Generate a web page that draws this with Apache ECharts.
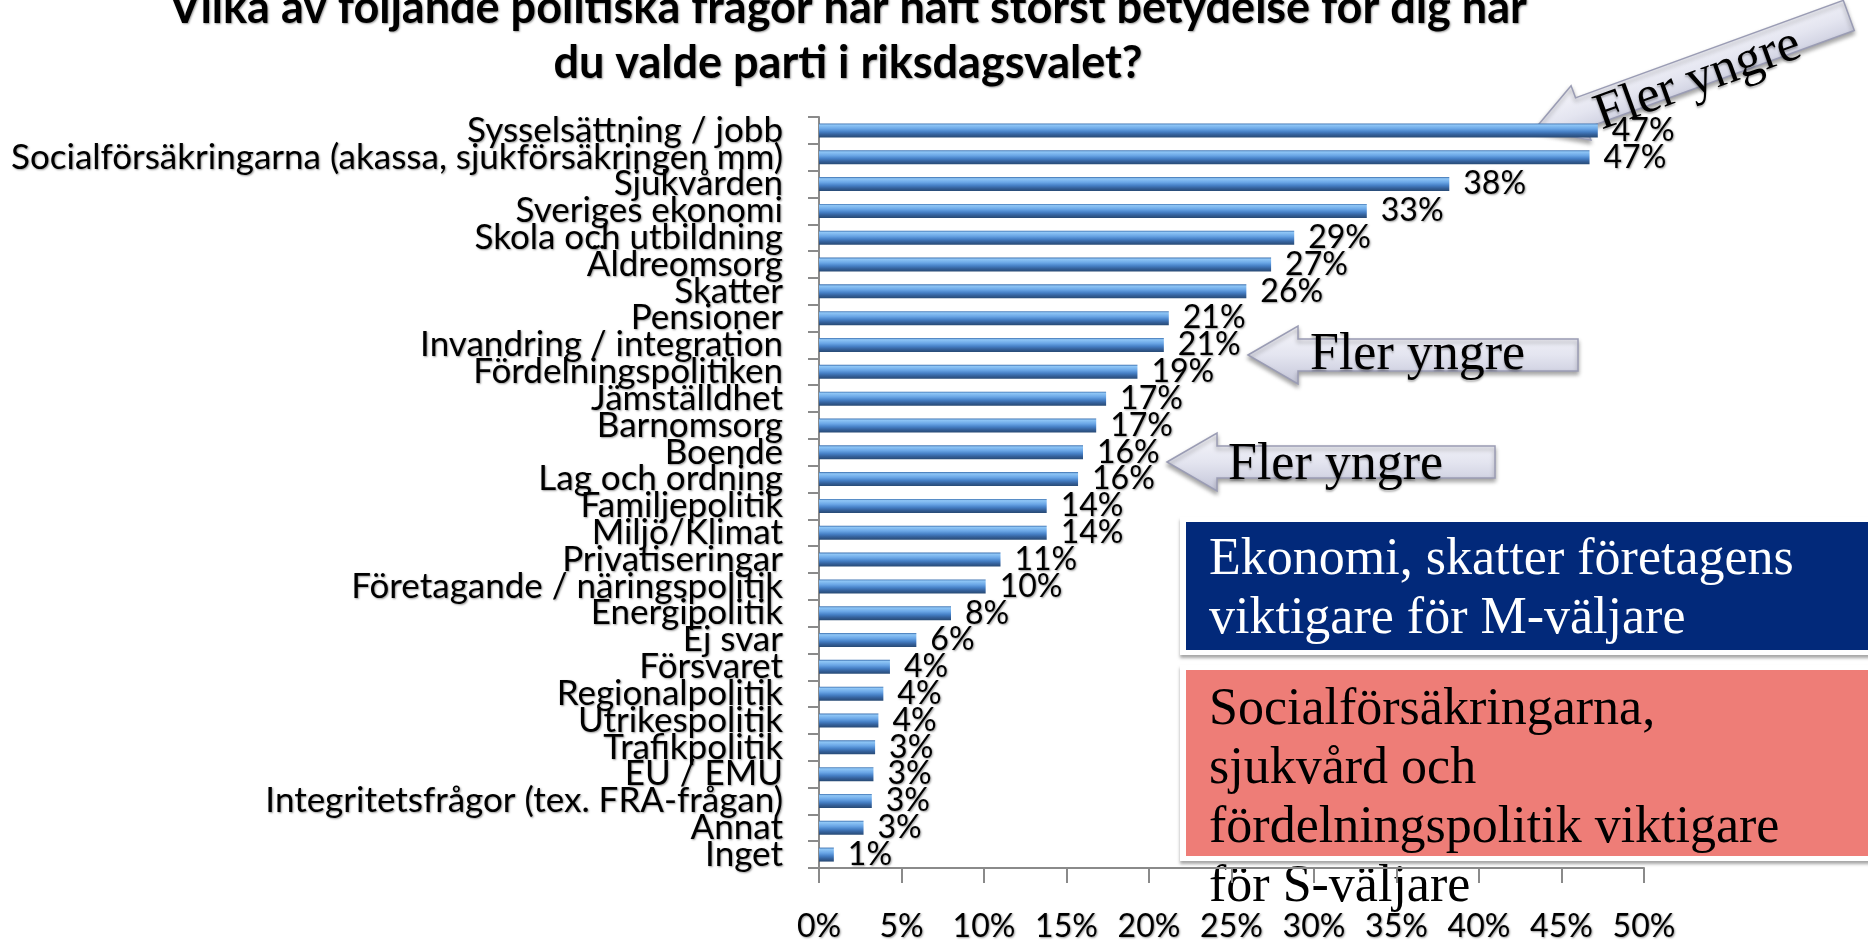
<!DOCTYPE html>
<html>
<head>
<meta charset="utf-8">
<script src="https://cdn.jsdelivr.net/npm/echarts@6/dist/echarts.min.js"></script>
<style>
html,body{margin:0;padding:0;background:#fff;}
#chart{width:1868px;height:944px;}
</style>
</head>
<body>
<div id="chart"></div>
<script>
const titleLines = ['Vilka av följande politiska frågor har haft störst betydelse för dig när', 'du valde parti i riksdagsvalet?'];
const categories = [
  'Sysselsättning / jobb',
  'Socialförsäkringarna (akassa, sjukförsäkringen mm)',
  'Sjukvården',
  'Sveriges ekonomi',
  'Skola och utbildning',
  'Äldreomsorg',
  'Skatter',
  'Pensioner',
  'Invandring / integration',
  'Fördelningspolitiken',
  'Jämställdhet',
  'Barnomsorg',
  'Boende',
  'Lag och ordning',
  'Familjepolitik',
  'Miljö/Klimat',
  'Privatiseringar',
  'Företagande / näringspolitik',
  'Energipolitik',
  'Ej svar',
  'Försvaret',
  'Regionalpolitik',
  'Utrikespolitik',
  'Trafikpolitik',
  'EU / EMU',
  'Integritetsfrågor (tex. FRA-frågan)',
  'Annat',
  'Inget'
];
const values = [47.2, 46.7, 38.2, 33.2, 28.8, 27.4, 25.9, 21.2, 20.9, 19.3, 17.4, 16.8, 16.0, 15.7, 13.8, 13.8, 11.0, 10.1, 8.0, 5.9, 4.3, 3.9, 3.6, 3.4, 3.3, 3.2, 2.7, 0.9];
const valueLabels = ['47%','47%','38%','33%','29%','27%','26%','21%','21%','19%','17%','17%','16%','16%','14%','14%','11%','10%','8%','6%','4%','4%','4%','3%','3%','3%','3%','1%'];
const xTickLabels = ['0%','5%','10%','15%','20%','25%','30%','35%','40%','45%','50%'];
const arrowText = 'Fler yngre';
const blueBoxLines = ['Ekonomi, skatter företagens', 'viktigare för M-väljare'];
const redBoxLines = ['Socialförsäkringarna,', 'sjukvård och', 'fördelningspolitik viktigare', 'för S-väljare'];

const chart = echarts.init(document.getElementById('chart'));

const sansFont = 'Lato, "Open Sans", sans-serif';
const serifFont = '"Liberation Serif", "DejaVu Serif", serif';
const shadowTxt = {textShadowColor:'rgba(0,0,0,0.4)', textShadowBlur:2, textShadowOffsetX:1, textShadowOffsetY:1};

function arrowPoints(len, headLen, headHalf, shaftHalf) {
  return [[0,0],[headLen,-headHalf],[headLen,-shaftHalf],[len,-shaftHalf],[len,shaftHalf],[headLen,shaftHalf],[headLen,headHalf]];
}
const arrowFill = new echarts.graphic.LinearGradient(0,0,0,1,[
  {offset:0,color:'#f7f7fc'},{offset:0.5,color:'#e4e5f0'},{offset:1,color:'#c3c5d8'}
]);
function arrow(x, y, rot, len) {
  return {
    type:'group', x:x, y:y, rotation:rot,
    children:[{
      type:'polygon',
      shape:{points:arrowPoints(len, 50, 29, 16)},
      style:{fill:arrowFill, stroke:'#9a9cb4', lineWidth:1.5, shadowColor:'rgba(0,0,0,0.35)', shadowBlur:4, shadowOffsetY:3}
    }]
  };
}
function txt(x, y, text, size, color, extra) {
  return {
    type:'text', x:x, y:y,
    style:Object.assign({text:text, fontSize:size, fontFamily:serifFont, fill:color,
      textAlign:'left', textVerticalAlign:'middle', align:'left', verticalAlign:'middle'}, extra||{})
  };
}
const arrowTxtShadow = {textShadowColor:'rgba(0,0,0,0.3)', textShadowBlur:2, textShadowOffsetY:2};

const rot1 = 20 * Math.PI / 180;
const graphics = [
  arrow(1534, 130, rot1, 335),
  {type:'text', x:1698, y:80, rotation:rot1,
   style:Object.assign({text:arrowText, fontSize:52, fontFamily:serifFont, fill:'#000', textAlign:'center', textVerticalAlign:'middle', align:'center', verticalAlign:'middle'}, arrowTxtShadow)},
  arrow(1248, 355, 0, 330),
  txt(1310, 355, arrowText, 52, '#000', arrowTxtShadow),
  arrow(1167, 462, 0, 328),
  txt(1228, 465, arrowText, 52, '#000', arrowTxtShadow),
  {type:'rect', shape:{x:1180, y:517, width:700, height:138}, style:{fill:'#fff', shadowColor:'rgba(0,0,0,0.35)', shadowBlur:3, shadowOffsetY:3}},
  {type:'rect', shape:{x:1186, y:522, width:690, height:128}, style:{fill:'#02297a'}},
  {type:'rect', shape:{x:1180, y:665, width:700, height:196}, style:{fill:'#fff', shadowColor:'rgba(0,0,0,0.35)', shadowBlur:3, shadowOffsetY:3}},
  {type:'rect', shape:{x:1186, y:670, width:690, height:186}, style:{fill:'#ee7d77'}}
];
blueBoxLines.forEach((t,i)=>graphics.push(txt(1209, 560 + i*59, t, 52, '#fff')));
redBoxLines.forEach((t,i)=>graphics.push(txt(1209, 710 + i*59, t, 52, '#000')));

const barGrad = new echarts.graphic.LinearGradient(0,0,0,1,[
  {offset:0,color:'#3b6fae'},{offset:0.12,color:'#8fc6f6'},{offset:0.38,color:'#6aa6e6'},
  {offset:0.6,color:'#4680c6'},{offset:0.8,color:'#34609a'},{offset:1,color:'#284a74'}
]);

chart.setOption({
  animation:false,
  backgroundColor:'#fff',
  title:{
    text:titleLines.join('\n'),
    left:843, top:-24, textAlign:'center',
    textStyle:Object.assign({fontFamily:sansFont, fontWeight:'bold', fontSize:45, lineHeight:55, color:'#000'}, shadowTxt)
  },
  grid:{left:819, right:224, top:117, bottom:76, containLabel:false},
  xAxis:{
    type:'value', min:0, max:50, interval:5,
    axisLine:{show:true, lineStyle:{color:'#8a8a8a', width:2}},
    axisTick:{show:true, inside:false, length:15, lineStyle:{color:'#8a8a8a', width:2}},
    splitLine:{show:false},
    axisLabel:Object.assign({margin:43, fontFamily:sansFont, fontSize:32, color:'#000',
      formatter:(v)=>xTickLabels[Math.round(v/5)]}, shadowTxt)
  },
  yAxis:{
    type:'category', data:categories, inverse:true,
    axisLine:{show:true, lineStyle:{color:'#8a8a8a', width:2}},
    axisTick:{show:true, inside:false, length:11, lineStyle:{color:'#8a8a8a', width:2}},
    axisLabel:Object.assign({margin:36, fontFamily:sansFont, fontSize:35, color:'#000', interval:0}, shadowTxt)
  },
  series:[{
    type:'bar', data:values, barWidth:14,
    itemStyle:{color:barGrad},
    label:Object.assign({show:true, position:'right', distance:14, fontFamily:sansFont, fontSize:32, color:'#000',
      formatter:(p)=>valueLabels[p.dataIndex]}, shadowTxt)
  }],
  graphic:graphics
});
</script>
</body>
</html>
